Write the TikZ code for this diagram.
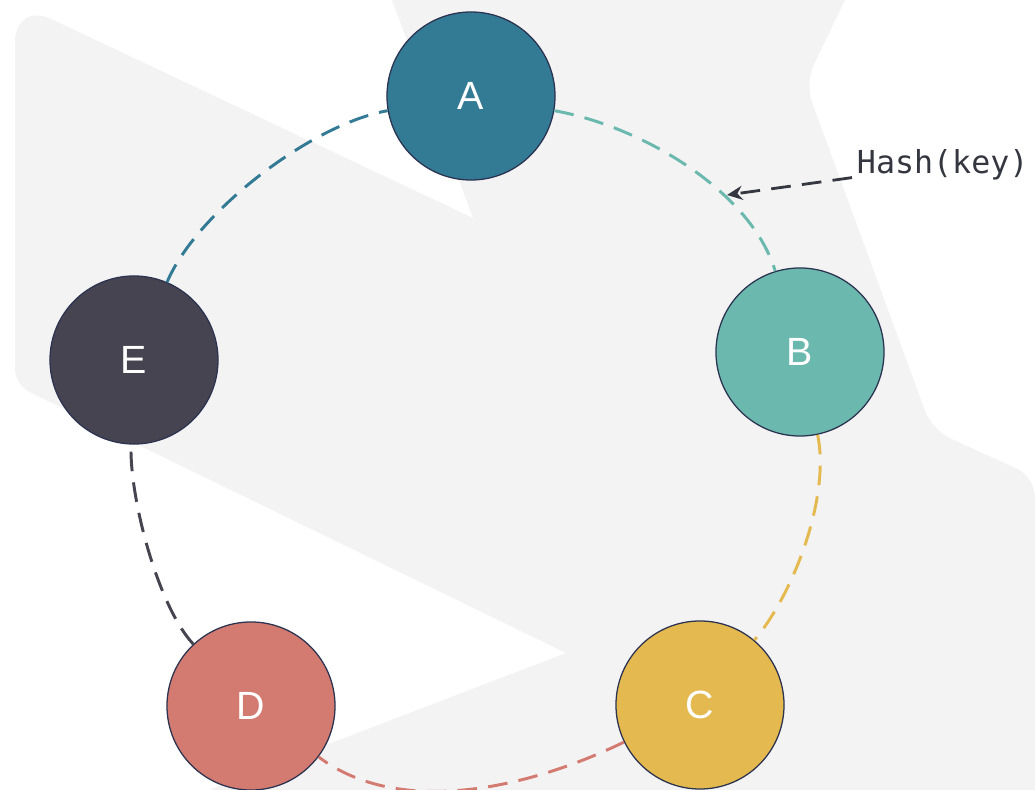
\documentclass[tikz,border=0pt]{standalone}
\usepackage{fontspec}
\setmainfont{Liberation Sans}
\newfontfamily\keyfont{DejaVu Sans Mono}
\usetikzlibrary{automata, arrows.meta}

\definecolor{bgGray}{RGB}{243,243,244}
\definecolor{colA}{RGB}{51,122,149}
\definecolor{colB}{RGB}{106,184,174}
\definecolor{colC}{RGB}{228,185,79}
\definecolor{colD}{RGB}{212,123,113}
\definecolor{colE}{RGB}{71,68,82}
\definecolor{rimBlue}{RGB}{43,51,80}
\definecolor{ink}{RGB}{52,55,64}

\begin{document}
\begin{tikzpicture}[x=0.025cm, y=0.025cm,
    every state/.style={draw=rimBlue, line width=0.9pt, minimum size=4.2cm,
        inner sep=0pt, text=white, font=\fontsize{28}{31}\selectfont},
    ring/.style={line width=2.1pt, dash pattern=on 14pt off 8pt}]
    % backdrop
    \fill[white] (0,0) rectangle (1035,790);
    \fill[bgGray] (473,572) -- (392,790) -- (845,790)
        [rounded corners=0.5cm] -- (805,707) -- (932,360) -- (1035,313)
        [sharp corners] -- (1035,0) -- (209,0) -- (566,137)
        [rounded corners=0.4cm] -- (15,405)
        [rounded corners=1cm] -- (15,788)
        [sharp corners] -- cycle;
    \useasboundingbox (0,0) rectangle (1035,790);

    \node[state, fill=colA] (A) at (471,694) {A};
    \node[state, fill=colB] (B) at (800,438) {B};
    \node[state, fill=colC] (C) at (700,85)  {C};
    \node[state, fill=colD] (D) at (251,84)  {D};
    \node[state, fill=colE] (E) at (134,430) {E};
    \draw[ring]
        (A) edge[out=-10, in=107, looseness=0.8, colB]  (B)
        (B) edge[out=-78, in=50,  looseness=0.74, colC] (C)
        (C) edge[out=206, in=-37, looseness=0.86, colD] (D)
        (D) edge[out=133, in=-92, looseness=0.64, colE] (E)
        (E) edge[out=67,  in=190, looseness=0.7, colA]  (A);

    \node[anchor=west, text=ink, font=\keyfont\fontsize{22.5}{25}\selectfont]
        (hash) at (852,625) {Hash(key)};
    \coordinate (hk) at (727,595);
    \draw[ink, line width=2pt, dash pattern=on 14pt off 8pt,
        -{Stealth[length=11pt, width=10pt]}] (hash) -- (hk);
\end{tikzpicture}
\end{document}
